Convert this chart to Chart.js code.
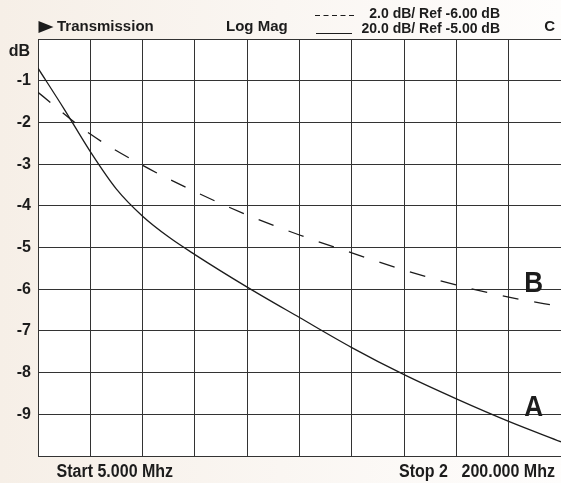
<!DOCTYPE html>
<html>
<head>
<meta charset="utf-8">
<script src="https://cdn.jsdelivr.net/npm/chart.js@4.4.1/dist/chart.umd.min.js"></script>
<style>
  html, body { margin: 0; padding: 0; }
  body { width: 561px; height: 483px; overflow: hidden; }
  #wrap { position: relative; width: 561px; height: 483px; }
</style>
</head>
<body>
<div id="wrap"><canvas id="vna" width="561" height="483"></canvas></div>
<script>
// x = screen division (10 across the display), y = dB as read on the grid
const traceAx  = [0, 0.5, 1, 1.5, 2, 2.5, 3, 4, 5, 6, 7, 8, 9, 10];
const traceAdB = [-0.7, -1.68, -2.7, -3.6, -4.25, -4.75, -5.17, -5.95, -6.68, -7.4, -8.05, -8.63, -9.17, -9.66];
const traceBx  = [0, 1, 2, 3, 4, 5, 6, 7, 8, 9, 10];
const traceBdB = [-1.28, -2.28, -3.03, -3.66, -4.22, -4.7, -5.13, -5.54, -5.9, -6.19, -6.42];
const dbTickLabels = ['-1', '-2', '-3', '-4', '-5', '-6', '-7', '-8', '-9'];
const scaleLines = ['2.0 dB/ Ref -6.00 dB', '20.0 dB/ Ref -5.00 dB'];
const startLabel = 'Start 5.000 Mhz';
const stopLabel = ['Stop 2', '200.000 Mhz'];

const FONT = '"Liberation Sans", Arial, Helvetica, sans-serif';
const INK = '#1c1c1c';

function txt(ctx, s, x, y, size, align, sx) {
  ctx.save();
  ctx.font = 'bold ' + size + 'px ' + FONT;
  ctx.fillStyle = INK;
  ctx.textAlign = align;
  ctx.textBaseline = 'middle';
  ctx.translate(x, y);
  ctx.scale(sx || 1, 1);
  ctx.fillText(s, 0, 0);
  ctx.restore();
}

function seg(ctx, x1, y, x2, dash) {
  ctx.save();
  ctx.strokeStyle = INK;
  ctx.lineWidth = 1;
  ctx.setLineDash(dash);
  ctx.beginPath();
  ctx.moveTo(x1, y);
  ctx.lineTo(x2, y);
  ctx.stroke();
  ctx.restore();
}

// background, white screen and the analyser annotations
const screenPlugin = {
  id: 'screen',
  beforeDraw(chart) {
    const { ctx, chartArea: a, width, height } = chart;
    const g = ctx.createLinearGradient(0, 0, width, 0);
    g.addColorStop(0, '#f6efe7');
    g.addColorStop(0.5, '#faf6f2');
    g.addColorStop(1, '#fefdfc');
    ctx.save();
    ctx.fillStyle = g;
    ctx.fillRect(0, 0, width, height);
    ctx.fillStyle = '#ffffff';
    ctx.fillRect(a.left, a.top, a.right - a.left, a.bottom - a.top);
    ctx.restore();
  },
  afterDraw(chart) {
    const { ctx } = chart;
    // header
    ctx.save();
    ctx.fillStyle = INK;
    ctx.beginPath();
    ctx.moveTo(38.5, 21);
    ctx.lineTo(53.5, 27);
    ctx.lineTo(38.5, 33);
    ctx.closePath();
    ctx.fill();
    ctx.restore();
    txt(ctx, 'Transmission', 57, 27, 15, 'left');
    txt(ctx, 'Log Mag', 226, 27, 15, 'left');
    txt(ctx, scaleLines[0], 500, 14, 14, 'right');
    txt(ctx, scaleLines[1], 500, 29, 14, 'right');
    txt(ctx, 'C', 555, 27, 15, 'right');
    seg(ctx, 315, 15.5, 354, [5, 3.5]);
    seg(ctx, 316, 33.5, 352, []);
    txt(ctx, 'dB', 30, 52, 16, 'right');
    // trace names
    txt(ctx, 'B', 543, 284, 30, 'right', 0.87);
    txt(ctx, 'A', 543, 408, 30, 'right', 0.87);
    // footer
    txt(ctx, startLabel, 56.5, 472, 18, 'left', 0.89);
    txt(ctx, stopLabel[0], 399, 472, 18, 'left', 0.89);
    txt(ctx, stopLabel[1], 555, 472, 18, 'right', 0.89);
  }
};

const gridStyle = { color: '#333333', lineWidth: 1, drawTicks: false };

new Chart(document.getElementById('vna'), {
  type: 'line',
  data: {
    datasets: [
      {
        label: 'A',
        data: traceAx.map((x, i) => ({ x: x, y: traceAdB[i] })),
        borderColor: INK,
        borderWidth: 1.3,
        pointRadius: 0,
        cubicInterpolationMode: 'monotone',
        fill: false
      },
      {
        label: 'B',
        data: traceBx.map((x, i) => ({ x: x, y: traceBdB[i] })),
        borderColor: INK,
        borderWidth: 1.3,
        borderDash: [16, 16],
        pointRadius: 0,
        cubicInterpolationMode: 'monotone',
        fill: false
      }
    ]
  },
  options: {
    responsive: false,
    animation: false,
    events: [],
    layout: { padding: { top: 39, bottom: 27, left: 0, right: 0 } },
    plugins: { legend: { display: false }, tooltip: { enabled: false } },
    scales: {
      x: {
        type: 'linear',
        min: 0,
        max: 10,
        ticks: { display: false, stepSize: 1 },
        grid: gridStyle,
        border: { color: '#333333' }
      },
      y: {
        min: -10,
        max: 0,
        ticks: {
          stepSize: 1,
          padding: 7,
          color: INK,
          font: { family: FONT, size: 16, weight: 'bold' },
          callback: (v) => dbTickLabels.includes(String(v)) ? String(v) : ''
        },
        grid: gridStyle,
        border: { color: '#333333' },
        afterFit: (scale) => { scale.width = 38; }
      }
    }
  },
  plugins: [screenPlugin]
});
</script>
</body>
</html>
